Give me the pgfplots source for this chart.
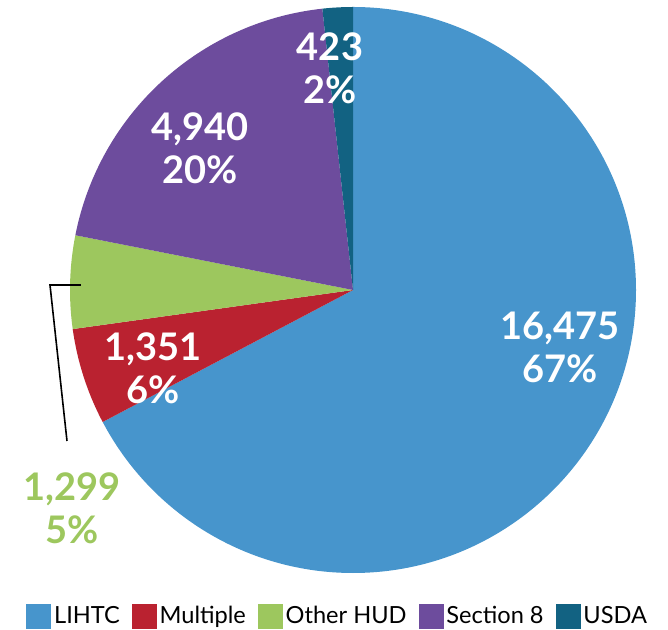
\documentclass[border=0pt]{standalone}
\usepackage{pgfplots}
\pgfplotsset{compat=1.18}
\usepackage{pgfplotstable}
\usepackage{fontspec}
\setmainfont{Lato}
\definecolor{clihtc}{HTML}{4795CC}
\definecolor{cmult}{HTML}{BA2230}
\definecolor{cother}{HTML}{9DC75E}
\definecolor{csec}{HTML}{6D4C9D}
\definecolor{cusda}{HTML}{126282}
\pgfplotstableread{
name value
LIHTC 16475
Multiple 1351
OtherHUD 1299
Section8 4940
USDA 423
}\piedata
\begin{document}
\begin{tikzpicture}
\pgfplotstablegetelem{0}{value}\of\piedata\let\vA\pgfplotsretval
\pgfplotstablegetelem{1}{value}\of\piedata\let\vB\pgfplotsretval
\pgfplotstablegetelem{2}{value}\of\piedata\let\vC\pgfplotsretval
\pgfplotstablegetelem{3}{value}\of\piedata\let\vD\pgfplotsretval
\pgfplotstablegetelem{4}{value}\of\piedata\let\vE\pgfplotsretval
\begingroup
\pgfkeys{/pgf/fpu=true,/pgf/fpu/output format=fixed}
\pgfmathparse{\vA+\vB+\vC+\vD+\vE}\xdef\tot{\pgfmathresult}
\pgfmathparse{90-360*\vA/\tot}\xdef\aB{\pgfmathresult}
\pgfmathparse{\aB-360*\vB/\tot}\xdef\aC{\pgfmathresult}
\pgfmathparse{\aC-360*\vC/\tot}\xdef\aD{\pgfmathresult}
\pgfmathparse{\aD-360*\vD/\tot}\xdef\aE{\pgfmathresult}
\pgfmathparse{\aE-360*\vE/\tot}\xdef\aF{\pgfmathresult}
\endgroup
\def\aA{90}
\begin{axis}[
  x=0.5pt, y=0.5pt, disabledatascaling,
  xmin=-353, xmax=315, ymin=-340, ymax=290,
  hide axis, clip=false,
  legend columns=5,
  legend image code/.code={\fill[#1] (0pt,-6pt) rectangle (12pt,6pt);},
  legend style={draw=none, at={(axis cs:-327,-326)}, anchor=west,
    font=\fontsize{11.8}{14}\selectfont, inner sep=0pt,
    /tikz/every even column/.append style={column sep=4.5pt},
    /tikz/every odd column/.append style={column sep=0pt},
    nodes={inner xsep=1.5pt}},
]
\coordinate (bbsw) at (rel axis cs:0,0);
\coordinate (bbne) at (rel axis cs:1,1);
\addlegendimage{clihtc}\addlegendentry{LIHTC}
\addlegendimage{cmult}\addlegendentry{Multiple}
\addlegendimage{cother}\addlegendentry{Other HUD}
\addlegendimage{csec}\addlegendentry{Section 8}
\addlegendimage{cusda}\addlegendentry{USDA}
\fill[clihtc] (axis cs:0,0) -- ++(\aA:141.5pt) arc[start angle=\aA, end angle=\aB, radius=141.5pt] -- cycle;
\fill[cmult] (axis cs:0,0) -- ++(\aB:141.5pt) arc[start angle=\aB, end angle=\aC, radius=141.5pt] -- cycle;
\fill[cother] (axis cs:0,0) -- ++(\aC:141.5pt) arc[start angle=\aC, end angle=\aD, radius=141.5pt] -- cycle;
\fill[csec] (axis cs:0,0) -- ++(\aD:141.5pt) arc[start angle=\aD, end angle=\aE, radius=141.5pt] -- cycle;
\fill[cusda] (axis cs:0,0) -- ++(\aE:141.5pt) arc[start angle=\aE, end angle=\aF, radius=141.5pt] -- cycle;
\draw[black, line width=0.8pt] (axis cs:-272,5) -- (axis cs:-303,5) -- (axis cs:-286,-151);
\tikzset{lbl/.style={font=\fontsize{19}{21.5}\selectfont\bfseries, align=center, inner sep=0pt}}
\node[lbl, text=white] at (axis cs:207,-57) {16,475\\67\%};
\node[lbl, text=white] at (axis cs:-200,-78) {1,351\\6\%};
\node[lbl, text=white] at (axis cs:-153,142) {4,940\\20\%};
\node[lbl, text=white] at (axis cs:-23,222) {423\\2\%};
\node[lbl, text=cother] at (axis cs:-281,-218) {1,299\\5\%};
\end{axis}
\pgfresetboundingbox
\path[use as bounding box] (bbsw) rectangle (bbne);
\end{tikzpicture}
\end{document}
